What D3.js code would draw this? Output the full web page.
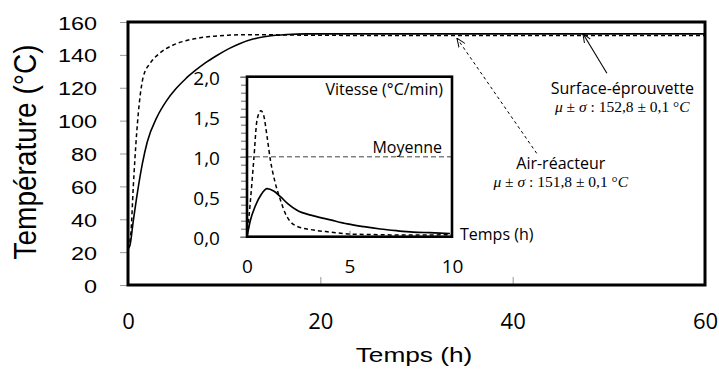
<!DOCTYPE html>
<html>
<head>
<meta charset="utf-8">
<script src="https://cdn.jsdelivr.net/npm/d3@7"></script>
<style>
  body { margin: 0; background: #fff; }
  svg { display: block; }
</style>
</head>
<body>
<script>
// Main chart: temperature (°C) against time (h)
const surfaceTime = [0, 0.2, 0.55, 1.0, 1.5, 2.0, 3.0, 4.0, 5.0, 6.0, 7.0, 8.0, 9.2, 10.5, 11.6, 13, 14.5, 16.5, 18.6, 20, 30, 40, 50, 60];
const surfaceTemp = [22, 24, 39, 57, 74, 87, 102, 112, 119.5, 125.5, 130.5, 135, 139.5, 143.8, 146.8, 149.6, 151.3, 152.4, 152.8, 152.8, 152.8, 152.8, 152.8, 152.8];
const airTime = [0, 0.3, 0.55, 0.9, 1.25, 1.59, 2.29, 3.3, 4.7, 6.0, 7.5, 9.0, 10.5, 12, 15, 20, 30, 40, 50, 60];
const airTemp = [22, 31.6, 59.8, 92.3, 114.5, 126.7, 134.8, 141, 146, 148.6, 150.4, 151.4, 152, 152.3, 152.2, 151.9, 151.8, 151.8, 151.8, 151.8];

// Inset: heating rate (°C/min) against time (h)
const surfaceRateTime = [0, 0.16, 0.4, 0.7, 0.98, 1.3, 1.63, 2.0, 2.44, 3.25, 4.07, 4.9, 5.7, 6.5, 7.3, 8.1, 8.9, 9.9];
const surfaceRate = [0, 0.2, 0.38, 0.53, 0.6, 0.57, 0.5, 0.41, 0.33, 0.26, 0.21, 0.16, 0.125, 0.096, 0.075, 0.058, 0.05, 0.04];
const airRateTime = [0, 0.15, 0.33, 0.49, 0.68, 0.81, 0.98, 1.14, 1.38, 1.63, 1.87, 2.11, 2.44, 3.25, 4.07, 5.04, 6.5, 8, 10];
const airRate = [0, 0.4, 0.96, 1.46, 1.575, 1.52, 1.25, 0.96, 0.67, 0.46, 0.29, 0.19, 0.13, 0.083, 0.058, 0.033, 0.025, 0.02, 0.025];
const meanRate = 1.0;

// Ticks
const mainXTicks = [0, 20, 40, 60];
const mainYTicks = [0, 20, 40, 60, 80, 100, 120, 140, 160];
const insetXTicks = [0, 5, 10];
const insetYTicks = [0, 0.5, 1.0, 1.5, 2.0];

// Annotations (data coordinates of the main chart)
const surfaceArrow = { from: [49.8, 128.8], to: [47.3, 153.0] };
const airArrow = { from: [42.5, 80.1], to: [34.2, 150.2] };
const surfaceLabel = { at: [51.4, 115.6], name: "Surface-éprouvette", mean: "152,8", sd: "0,1" };
const airLabel = { at: [45.0, 70.0], name: "Air-réacteur", mean: "151,8", sd: "0,1" };

const width = 719, height = 370;
const svg = d3.select("body").append("svg")
    .attr("width", width)
    .attr("height", height);

const arial = "'Liberation Sans', Arial, sans-serif";
const calibri = "'Open Sans', 'Noto Sans', sans-serif";
const serif = "'Liberation Serif', 'DejaVu Serif', serif";

// scales
const x = d3.scaleLinear().domain([0, 60]).range([128, 705]);
const y = d3.scaleLinear().domain([0, 160]).range([285, 22]);
const xi = d3.scaleLinear().domain([0, 10]).range([247, 452]);
const yi = d3.scaleLinear().domain([0, 2]).range([236.7, 76.7]);

const comma = d3.formatLocale({ decimal: ",", thousands: " ", grouping: [3], currency: ["", ""] }).format(".1f");

// arrow head
svg.append("defs").append("marker")
    .attr("id", "head")
    .attr("viewBox", "0 0 10 10")
    .attr("refX", 10).attr("refY", 5)
    .attr("markerWidth", 9).attr("markerHeight", 9)
    .attr("markerUnits", "userSpaceOnUse")
    .attr("orient", "auto")
  .append("path")
    .attr("d", "M0,1 L10,5 L0,9")
    .attr("fill", "none")
    .attr("stroke", "#000")
    .attr("stroke-width", 1.1);

// ---- main axes
const yAxis = svg.append("g")
    .attr("transform", `translate(${x(0)},0)`)
    .call(d3.axisLeft(y).tickValues(mainYTicks).tickSize(8));
yAxis.select(".domain").remove();
yAxis.selectAll("line").attr("stroke", "#999");
yAxis.selectAll("text")
    .attr("font-family", arial)
    .attr("font-size", 18.6)
    .attr("fill", "#000")
    .attr("x", -31 / 1.26)
    .attr("dy", null)
    .attr("y", 7)
    .attr("transform", "scale(1.26,1)");

const xAxis = svg.append("g")
    .attr("transform", `translate(0,${y(0)})`)
    .call(d3.axisBottom(x).tickValues(mainXTicks).tickSizeInner(-8).tickSizeOuter(0));
xAxis.select(".domain").remove();
xAxis.selectAll("line").attr("stroke", "#999");
xAxis.selectAll("text")
    .attr("font-family", calibri)
    .attr("font-size", 22)
    .attr("fill", "#000")
    .attr("dy", null)
    .attr("y", 44);

svg.append("text")
    .attr("transform", "translate(414,362) scale(1.25,1)")
    .attr("text-anchor", "middle")
    .attr("font-family", arial)
    .attr("font-size", 21)
    .text("Temps (h)");

svg.append("text")
    .attr("transform", "translate(36,152) scale(1.15,1) rotate(-90)")
    .attr("text-anchor", "middle")
    .attr("font-family", arial)
    .attr("font-size", 28)
    .text("Température (°C)");

// ---- main curves
const mainLine = d3.line()
    .x(d => x(d[0]))
    .y(d => y(d[1]))
    .curve(d3.curveMonotoneX);

svg.append("path")
    .datum(d3.zip(surfaceTime, surfaceTemp))
    .attr("fill", "none")
    .attr("stroke", "#000")
    .attr("stroke-width", 1.6)
    .attr("d", mainLine);

svg.append("path")
    .datum(d3.zip(airTime, airTemp))
    .attr("fill", "none")
    .attr("stroke", "#000")
    .attr("stroke-width", 1.5)
    .attr("stroke-dasharray", "4,3")
    .attr("d", mainLine);

// main frame
svg.append("rect")
    .attr("x", x(0)).attr("y", y(160))
    .attr("width", x(60) - x(0))
    .attr("height", y(0) - y(160))
    .attr("fill", "none")
    .attr("stroke", "#000")
    .attr("stroke-width", 3);

// ---- annotations
svg.append("line")
    .attr("x1", x(surfaceArrow.from[0])).attr("y1", y(surfaceArrow.from[1]))
    .attr("x2", x(surfaceArrow.to[0])).attr("y2", y(surfaceArrow.to[1]))
    .attr("stroke", "#000")
    .attr("stroke-width", 1.1)
    .attr("marker-end", "url(#head)");

svg.append("line")
    .attr("x1", x(airArrow.from[0])).attr("y1", y(airArrow.from[1]))
    .attr("x2", x(airArrow.to[0])).attr("y2", y(airArrow.to[1]))
    .attr("stroke", "#000")
    .attr("stroke-width", 1)
    .attr("stroke-dasharray", "3,3")
    .attr("marker-end", "url(#head)");

function seriesLabel(lab) {
  const cx = x(lab.at[0]), cy = y(lab.at[1]);
  svg.append("text")
      .attr("x", cx).attr("y", cy - 1)
      .attr("text-anchor", "middle")
      .attr("font-family", calibri)
      .attr("font-size", 16)
      .text(lab.name);
  const t = svg.append("text")
      .attr("x", cx).attr("y", cy + 17.5)
      .attr("text-anchor", "middle")
      .attr("font-family", serif)
      .attr("font-size", 15.5);
  t.append("tspan").attr("font-style", "italic").text("μ");
  t.append("tspan").text(" ± ");
  t.append("tspan").attr("font-style", "italic").text("σ");
  t.append("tspan").text(` : ${lab.mean} ± ${lab.sd} °`);
  t.append("tspan").attr("font-style", "italic").text("C");
}
seriesLabel(surfaceLabel);
seriesLabel(airLabel);

// ---- inset
const inset = svg.append("g");

inset.append("rect")
    .attr("x", xi(0)).attr("y", yi(2))
    .attr("width", xi(10) - xi(0))
    .attr("height", yi(0) - yi(2))
    .attr("fill", "#fff");

// minor ticks every 0.1
const minorAxis = inset.append("g")
    .attr("transform", `translate(${xi(0)},0)`)
    .call(d3.axisLeft(yi).tickValues(d3.range(0, 2.001, 0.1)).tickSize(6).tickFormat(""));
minorAxis.select(".domain").remove();
minorAxis.selectAll("line").attr("stroke", "#666");

const insetY = inset.append("g")
    .attr("transform", `translate(${xi(0)},0)`)
    .call(d3.axisLeft(yi).tickValues(insetYTicks).tickSize(7).tickFormat(comma));
insetY.select(".domain").remove();
insetY.selectAll("line").attr("stroke", "#666");
insetY.selectAll("text")
    .attr("font-family", calibri)
    .attr("font-size", 19)
    .attr("fill", "#000")
    .attr("x", -27)
    .attr("dy", null)
    .attr("y", 7.5);

const insetX = inset.append("g")
    .attr("transform", `translate(0,${yi(0)})`)
    .call(d3.axisBottom(xi).tickValues(insetXTicks).tickSizeInner(-6).tickSizeOuter(0));
insetX.select(".domain").remove();
insetX.selectAll("line").attr("stroke", "#888");
insetX.selectAll("text")
    .attr("font-family", calibri)
    .attr("font-size", 19)
    .attr("fill", "#000")
    .attr("dy", null)
    .attr("y", 36.5);

// mean rate
inset.append("line")
    .attr("x1", xi(0)).attr("x2", xi(10))
    .attr("y1", yi(meanRate)).attr("y2", yi(meanRate))
    .attr("stroke", "#808080")
    .attr("stroke-width", 1.4)
    .attr("stroke-dasharray", "5,3");

const insetLine = d3.line()
    .x(d => xi(d[0]))
    .y(d => yi(d[1]))
    .curve(d3.curveMonotoneX);

inset.append("path")
    .datum(d3.zip(surfaceRateTime, surfaceRate))
    .attr("fill", "none")
    .attr("stroke", "#000")
    .attr("stroke-width", 1.7)
    .attr("d", insetLine);

inset.append("path")
    .datum(d3.zip(airRateTime, airRate))
    .attr("fill", "none")
    .attr("stroke", "#000")
    .attr("stroke-width", 1.5)
    .attr("stroke-dasharray", "4,3")
    .attr("d", insetLine);

inset.append("rect")
    .attr("x", xi(0)).attr("y", yi(2))
    .attr("width", xi(10) - xi(0))
    .attr("height", yi(0) - yi(2))
    .attr("fill", "none")
    .attr("stroke", "#000")
    .attr("stroke-width", 2.6);

inset.append("text")
    .attr("x", 443).attr("y", 95)
    .attr("text-anchor", "end")
    .attr("font-family", calibri)
    .attr("font-size", 16)
    .text("Vitesse (°C/min)");

inset.append("text")
    .attr("x", 442).attr("y", yi(meanRate) - 4)
    .attr("text-anchor", "end")
    .attr("font-family", calibri)
    .attr("font-size", 16)
    .text("Moyenne");

inset.append("text")
    .attr("x", xi(10) + 8).attr("y", yi(0) + 3)
    .attr("font-family", calibri)
    .attr("font-size", 16)
    .text("Temps (h)");
</script>
</body>
</html>
